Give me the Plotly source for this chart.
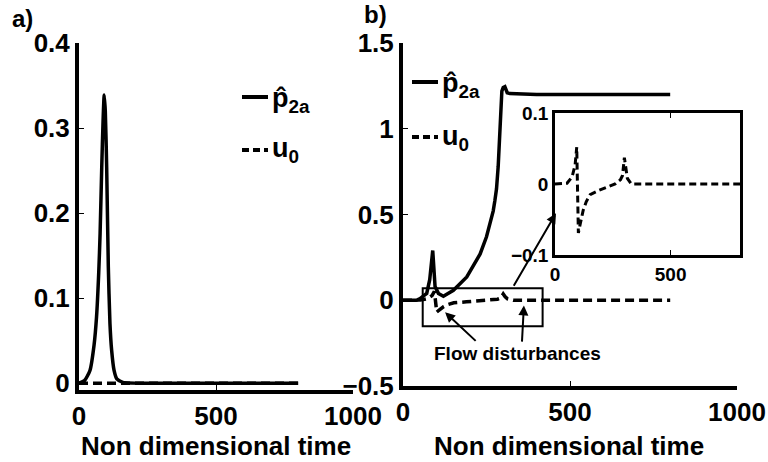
import plotly.graph_objects as go

# ---------------- data ----------------
# panel a
t_p2a_a = [0, 20, 40, 55, 64, 72, 77, 83, 88, 92, 96, 101, 107, 113, 119, 128, 138, 160, 300, 500, 800]
p2a_a   = [0.0, 0.003, 0.015, 0.045, 0.078, 0.13, 0.176, 0.254, 0.31, 0.339, 0.32, 0.254, 0.137, 0.07, 0.039, 0.015, 0.005, 0.001, 0.0, 0.0, 0.0]
t_u0_a  = [0, 100, 200, 400, 800]
u0_a    = [0, 0, 0, 0, 0]

# panel b
t_p2a_b = [0, 40, 51, 71, 80, 89, 96, 106, 121, 151, 191, 231, 250, 261, 270, 275, 280, 285, 288, 290, 293, 296, 300, 305, 312, 320, 400, 600, 800]
p2a_b   = [0, 0, 0.01, 0.04, 0.12, 0.29, 0.08, 0.04, 0.023, 0.058, 0.136, 0.27, 0.37, 0.45, 0.52, 0.58, 0.65, 0.78, 0.9, 1.02, 1.15, 1.22, 1.24, 1.245, 1.21, 1.205, 1.2, 1.2, 1.2]
t_u0_b  = [0, 40, 52, 74, 87, 94, 97, 101, 110, 122, 135, 152, 190, 225, 260, 283, 292, 300, 306, 313, 330, 400, 600, 800]
u0_b    = [0, 0, 0.001, 0.01, 0.027, 0.052, -0.01, -0.069, -0.055, -0.037, -0.025, -0.015, -0.009, -0.004, 0.0, 0.006, 0.012, 0.037, 0.02, 0.008, 0, 0, 0, 0]

x_ticks_main = [0, 500, 1000]
y_ticks_a = [0, 0.1, 0.2, 0.3, 0.4]
y_ticks_b = [-0.5, 0, 0.5, 1, 1.5]
x_ticks_inset = [0, 500]
y_ticks_inset = [-0.1, 0, 0.1]

W, H = 768, 462
def px(x): return x / W
def py(y): return 1 - y / H

FONT = "Liberation Sans, Arial, sans-serif"
LW = 3.5
DASH = "9px,5px"

fig = go.Figure()
fig.add_trace(go.Scatter(x=t_u0_a, y=u0_a, mode="lines", line=dict(color="black", width=LW, dash=DASH), xaxis="x", yaxis="y"))
fig.add_trace(go.Scatter(x=t_p2a_a, y=p2a_a, mode="lines", line=dict(color="black", width=LW, shape="spline", smoothing=0.6), xaxis="x", yaxis="y"))
fig.add_trace(go.Scatter(x=t_p2a_b, y=p2a_b, mode="lines", line=dict(color="black", width=LW), xaxis="x2", yaxis="y2"))
fig.add_trace(go.Scatter(x=t_u0_b, y=u0_b, mode="lines", line=dict(color="black", width=LW, dash=DASH), xaxis="x2", yaxis="y2"))
fig.add_trace(go.Scatter(x=t_u0_b, y=u0_b, mode="lines", line=dict(color="black", width=3, dash="7px,4px"), xaxis="x3", yaxis="y3"))

tickfont = dict(family=FONT, size=26, color="black", weight="bold")
insetfont = dict(family=FONT, size=19, color="black", weight="bold")
common = dict(showgrid=False, zeroline=False, showline=True, linecolor="black", ticks="inside",
              ticklen=5, tickcolor="black", fixedrange=True, automargin=False)

fig.update_layout(
    width=W, height=H, margin=dict(l=0, r=0, t=0, b=0, autoexpand=False),
    paper_bgcolor="white", plot_bgcolor="rgba(0,0,0,0)", showlegend=False,
    xaxis=dict(domain=[px(79), px(353)], range=[0, 1000], tickvals=x_ticks_main, anchor="y", linewidth=4, tickfont=tickfont, **common),
    yaxis=dict(domain=[py(390), py(43)], range=[-0.008, 0.4], tickvals=y_ticks_a, anchor="x", linewidth=4, tickfont=tickfont, **common),
    xaxis2=dict(domain=[px(403), px(737)], range=[0, 1000], tickvals=x_ticks_main, anchor="y2", linewidth=4, tickfont=tickfont, **common),
    yaxis2=dict(domain=[py(386), py(43)], range=[-0.5, 1.5], tickvals=y_ticks_b, anchor="x2", linewidth=4, tickfont=tickfont, **common),
    xaxis3=dict(domain=[px(555), px(740)], range=[0, 800], tickvals=x_ticks_inset, anchor="y3", mirror="ticks",
                linewidth=2.5, tickfont=insetfont, **common),
    yaxis3=dict(domain=[py(255), py(113)], range=[-0.1, 0.1], tickvals=y_ticks_inset, anchor="x3", mirror="ticks",
                linewidth=2.5, tickfont=insetfont, **common),
)

shapes = []
# inset white background
shapes.append(dict(type="rect", xref="x3 domain", yref="y3 domain", x0=0, x1=1, y0=0, y1=1,
                   fillcolor="white", line=dict(width=0), layer="below"))
# zoom rectangle in panel b
shapes.append(dict(type="rect", xref="x2", yref="y2", x0=59, x1=418, y0=-0.152, y1=0.07,
                   line=dict(color="black", width=2)))
# legend samples
for (x0, x1, y, dash) in [(242, 268, 97, "solid"), (242, 268, 150, "dash"),
                          (412, 438, 82, "solid"), (412, 438, 137, "dash")]:
    shapes.append(dict(type="line", xref="paper", yref="paper", x0=px(x0), x1=px(x1), y0=py(y), y1=py(y),
                       line=dict(color="black", width=4, dash="solid" if dash == "solid" else "7px,4px")))
fig.update_layout(shapes=shapes)

ann = []
def txt(x, y, s, size=26, xa="center", ya="middle"):
    ann.append(dict(xref="paper", yref="paper", x=px(x), y=py(y), text=s, showarrow=False,
                    xanchor=xa, yanchor=ya, font=dict(family=FONT, size=size, color="black", weight="bold")))

txt(22, 19, "a)", 24)
txt(375, 15, "b)", 24)
txt(216, 446, "Non dimensional time", 26)
txt(569, 446, "Non dimensional time", 26)
# legends
txt(270, 100, "p\u0302<sub>2a</sub>", 27, xa="left")
txt(270, 150, "u<sub>0</sub>", 27, xa="left")
txt(440, 85, "p\u0302<sub>2a</sub>", 27, xa="left")
txt(440, 138, "u<sub>0</sub>", 27, xa="left")

# arrows
def arrow(x, y, ax, ay):
    ann.append(dict(xref="x2", yref="y2", axref="x2", ayref="y2", x=x, y=y, ax=ax, ay=ay, text="",
                    showarrow=True, arrowhead=2, arrowsize=1, arrowwidth=2, arrowcolor="black"))
arrow(458, 0.507, 329, 0.076)
arrow(126, -0.07, 222, -0.245)
arrow(362, -0.03, 356, -0.25)
ann.append(dict(xref="x2", yref="y2", x=344, y=-0.31, text="Flow disturbances", showarrow=False,
                xanchor="center", yanchor="middle", bgcolor="rgba(0,0,0,0)",
                font=dict(family=FONT, size=19, color="black", weight="bold")))
fig.update_layout(annotations=ann)

fig.write_html("out.html")
